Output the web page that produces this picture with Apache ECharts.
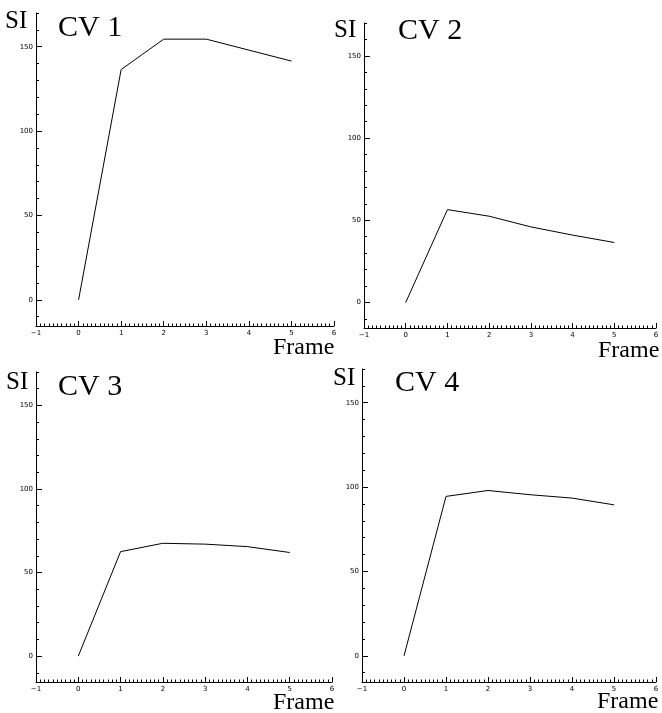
<!DOCTYPE html>
<html>
<head>
<meta charset="utf-8">
<script src="https://cdn.jsdelivr.net/npm/echarts@6/dist/echarts.min.js"></script>
<style>
  html, body { margin: 0; padding: 0; background: #fff; }
  #chart { width: 662px; height: 713px; }
</style>
</head>
<body>
<div id="chart"></div>
<script>
// frame numbers on the x axis
const frames = [0, 1, 2, 3, 4, 5]
// SI values
const cv1 = [0, 136.5, 154.5, 154.5, 148, 141.5]
const cv2 = [0, 56.5, 52.5, 46, 41, 36.5]
const cv3 = [0, 62.5, 67.5, 67, 65.5, 62]
const cv4 = [0, 94.5, 98, 95.5, 93.5, 89.5]
const panelNames = ['CV 1', 'CV 2', 'CV 3', 'CV 4']

// tick labels
const yLabels = [0, 50, 100, 150]
const yMinor = [-10, 10, 20, 30, 40, 60, 70, 80, 90, 110, 120, 130, 140, 160, 170]

const yMin = -15.5
const yMax = 170

// grid boxes, one per panel
const boxes = [
  { left: 36, top: 13, width: 298, height: 313 },
  { left: 364, top: 23, width: 292, height: 305 },
  { left: 36, top: 372, width: 296, height: 310 },
  { left: 362, top: 369, width: 294, height: 313 }
]
// where the texts go, per panel
const textPos = [
  { si: [5, 21], cv: [58, 28], frame: [273, 348] },
  { si: [334, 30], cv: [398, 31], frame: [598, 351] },
  { si: [6, 382], cv: [58, 387], frame: [273, 703] },
  { si: [333, 378], cv: [395, 383], frame: [597, 702] }
]

const serif = '"Liberation Serif", "Times New Roman", serif'
const allData = [cv1, cv2, cv3, cv4]

let grid = []
let xAxis = []
let yAxis = []
let series = []
let graphic = []

for (let i = 0; i < 4; i++) {
  grid.push(Object.assign({ outerBoundsMode: 'none', containLabel: false }, boxes[i]))
  xAxis.push({
    type: 'value',
    gridIndex: i,
    min: -1,
    max: 6,
    interval: 1,
    axisLine: { show: true, onZero: false, lineStyle: { color: '#000', width: 1 } },
    axisTick: { show: true, inside: true, length: 5, lineStyle: { color: '#000' } },
    minorTick: { show: true, splitNumber: 10, length: 2.5, lineStyle: { color: '#000' } },
    splitLine: { show: false },
    axisLabel: {
      color: '#000',
      fontSize: 7,
      fontFamily: 'DejaVu Sans',
      margin: 4,
      formatter: function (v) { return String(v).replace('-', '\u2212') }
    }
  })
  // labelled axis with long ticks
  yAxis.push({
    type: 'value',
    gridIndex: i,
    min: yMin,
    max: yMax,
    axisLine: { show: true, onZero: false, lineStyle: { color: '#000', width: 1 } },
    axisTick: { show: true, inside: true, length: 6, customValues: yLabels, lineStyle: { color: '#000' } },
    axisLabel: { color: '#000', fontSize: 7, fontFamily: 'DejaVu Sans', margin: 3, customValues: yLabels },
    splitLine: { show: false }
  })
  // second axis only for the short ticks
  yAxis.push({
    type: 'value',
    gridIndex: i,
    position: 'left',
    min: yMin,
    max: yMax,
    axisLine: { show: false, onZero: false },
    axisTick: { show: true, inside: true, length: 3, customValues: yMinor, lineStyle: { color: '#000' } },
    axisLabel: { show: false },
    splitLine: { show: false }
  })
  series.push({
    type: 'line',
    xAxisIndex: i,
    yAxisIndex: i * 2,
    data: frames.map((f, k) => [f, allData[i][k]]),
    symbol: 'none',
    lineStyle: { color: '#000', width: 1 },
    silent: true
  })

  let p = textPos[i]
  graphic.push({
    type: 'text', x: p.si[0], y: p.si[1],
    style: { text: 'SI', font: '25px ' + serif, fill: '#000', verticalAlign: 'middle' }
  })
  graphic.push({
    type: 'text', x: p.cv[0], y: p.cv[1],
    style: { text: panelNames[i], font: '30px ' + serif, fill: '#000', verticalAlign: 'middle' }
  })
  graphic.push({
    type: 'text', x: p.frame[0], y: p.frame[1],
    style: { text: 'Frame', font: '24px ' + serif, fill: '#000', verticalAlign: 'middle' }
  })
}

let myChart = echarts.init(document.getElementById('chart'))
myChart.setOption({
  animation: false,
  backgroundColor: '#fff',
  grid: grid,
  xAxis: xAxis,
  yAxis: yAxis,
  series: series,
  graphic: graphic
})
</script>
</body>
</html>
